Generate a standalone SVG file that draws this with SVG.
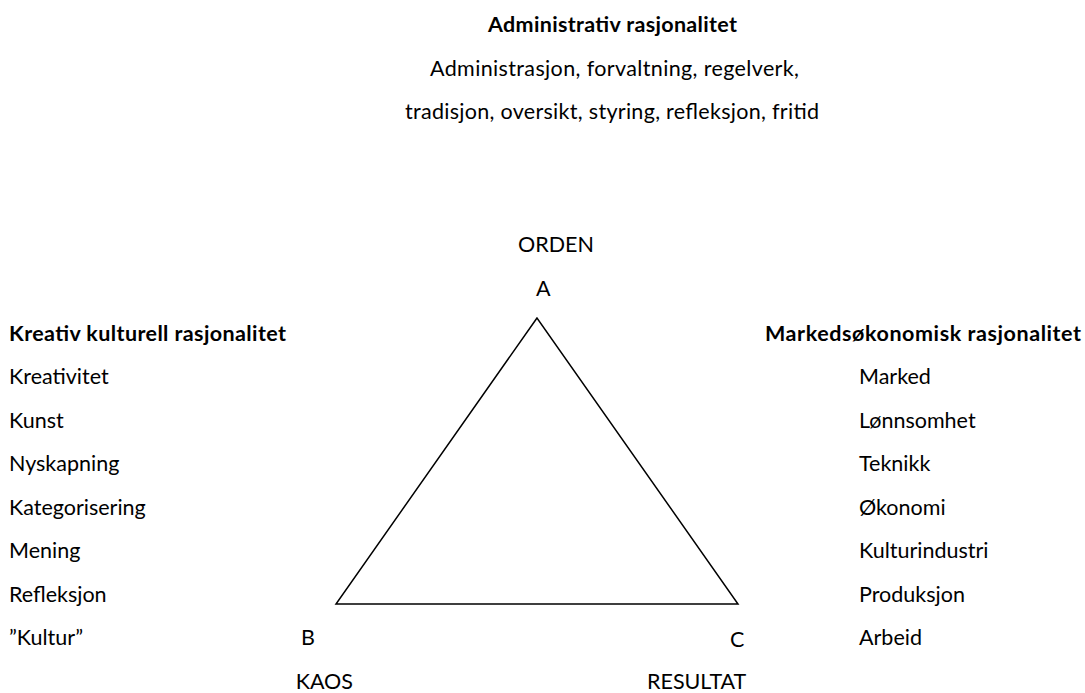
<svg xmlns="http://www.w3.org/2000/svg" width="1085" height="693" viewBox="0 0 1085 693">
<style>
text{font-family:Lato,"Open Sans","Liberation Sans",sans-serif;font-size:21.5px;fill:#000}
.b{font-weight:bold}
.m{text-anchor:middle}
.e{text-anchor:end}
</style>
<rect width="1085" height="693" fill="#fff"/>
<g id="top">
<text class="b" x="488" y="32" textLength="249">Administrativ rasjonalitet</text>
<text x="430" y="76" textLength="369">Administrasjon, forvaltning, regelverk,</text>
<text x="405" y="119" textLength="414">tradisjon, oversikt, styring, refleksjon, fritid</text>
</g>
<g id="left">
<text class="b" x="9" y="341" textLength="277">Kreativ kulturell rasjonalitet</text>
<text x="9" y="384">Kreativitet</text>
<text x="9" y="428">Kunst</text>
<text x="9" y="471">Nyskapning</text>
<text x="9" y="515">Kategorisering</text>
<text x="9" y="558">Mening</text>
<text x="9" y="602">Refleksjon</text>
<text x="9" y="645">”Kultur”</text>
</g>
<g id="right">
<text class="b" x="765" y="341" textLength="316">Markedsøkonomisk rasjonalitet</text>
<text x="859" y="384">Marked</text>
<text x="859" y="428">Lønnsomhet</text>
<text x="859" y="471">Teknikk</text>
<text x="859" y="515">Økonomi</text>
<text x="859" y="558">Kulturindustri</text>
<text x="859" y="602">Produksjon</text>
<text x="859" y="645">Arbeid</text>
</g>
<g id="connectors">
<polygon points="537,318 336,604 738,604" fill="none" stroke="#000" stroke-width="1.5"/>
</g>
<g id="labels">
<text x="518" y="252">ORDEN</text>
<text x="536" y="296">A</text>
<text x="301" y="645">B</text>
<text x="730" y="647">C</text>
<text class="e" x="353" y="689">KAOS</text>
<text x="647" y="689">RESULTAT</text>
</g>
</svg>
